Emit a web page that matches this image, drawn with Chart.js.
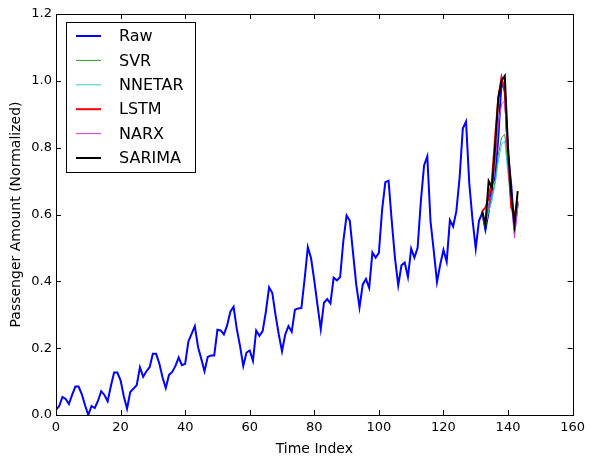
<!DOCTYPE html>
<html>
<head>
<meta charset="utf-8">
<script src="https://cdn.jsdelivr.net/npm/chart.js@4.4.1/dist/chart.umd.min.js"></script>
<style>
  html, body { margin: 0; padding: 0; background: #fff; }
  #wrap { width: 590px; height: 458px; }
</style>
</head>
<body>
<div id="wrap"><canvas id="lineChart" width="590" height="458"></canvas></div>
<script>
// normalized airline passengers, index 0..143
const raw = [
  0.015, 0.027, 0.054, 0.048, 0.033, 0.060, 0.085, 0.085, 0.062, 0.029, 0.000, 0.027,
  0.021, 0.042, 0.071, 0.060, 0.041, 0.087, 0.127, 0.127, 0.104, 0.056, 0.019, 0.069,
  0.079, 0.089, 0.143, 0.114, 0.131, 0.143, 0.183, 0.183, 0.154, 0.112, 0.081, 0.120,
  0.129, 0.147, 0.172, 0.149, 0.153, 0.220, 0.243, 0.266, 0.203, 0.168, 0.131, 0.174,
  0.178, 0.178, 0.255, 0.253, 0.241, 0.268, 0.309, 0.324, 0.257, 0.207, 0.147, 0.187,
  0.193, 0.162, 0.253, 0.237, 0.251, 0.309, 0.382, 0.365, 0.299, 0.241, 0.191, 0.241,
  0.266, 0.249, 0.315, 0.319, 0.320, 0.407, 0.502, 0.469, 0.402, 0.328, 0.257, 0.336,
  0.347, 0.334, 0.411, 0.403, 0.413, 0.521, 0.597, 0.581, 0.485, 0.390, 0.322, 0.390,
  0.407, 0.380, 0.486, 0.471, 0.485, 0.614, 0.697, 0.701, 0.579, 0.469, 0.388, 0.448,
  0.456, 0.413, 0.498, 0.471, 0.500, 0.639, 0.747, 0.774, 0.579, 0.492, 0.398, 0.450,
  0.494, 0.459, 0.583, 0.564, 0.610, 0.710, 0.857, 0.878, 0.693, 0.585, 0.498, 0.581,
  0.604, 0.554, 0.608, 0.689, 0.710, 0.832, 1.000, 0.969, 0.780, 0.689, 0.552, 0.633
];

// forecast window
const forecastIdx = [132, 133, 134, 135, 136, 137, 138, 139, 140, 141, 142, 143];
const svr    = [0.60, 0.56, 0.62, 0.65, 0.70, 0.78, 0.83, 0.84, 0.74, 0.64, 0.57, 0.63];
const nnetar = [0.59, 0.57, 0.61, 0.64, 0.69, 0.76, 0.81, 0.82, 0.72, 0.63, 0.56, 0.62];
const lstm   = [0.61, 0.62, 0.65, 0.70, 0.83, 0.95, 1.01, 0.97, 0.78, 0.62, 0.60, 0.64];
const narx   = [0.59, 0.57, 0.63, 0.66, 0.75, 0.87, 0.93, 0.94, 0.76, 0.64, 0.53, 0.62];
const sarima = [0.61, 0.57, 0.70, 0.68, 0.80, 0.95, 1.00, 1.015, 0.80, 0.66, 0.57, 0.67];

const xTicks = [0, 20, 40, 60, 80, 100, 120, 140, 160];
const yTicks = [0.0, 0.2, 0.4, 0.6, 0.8, 1.0, 1.2];

const FONT = "'DejaVu Sans', sans-serif";

function pts(xs, ys) {
  return ys.map((v, i) => ({ x: xs[i], y: v }));
}
const rawIdx = raw.map((v, i) => i);

// matplotlib style frame + inward ticks + legend in the corner
const framePlugin = {
  id: 'frame',
  afterDraw(chart) {
    const ctx = chart.ctx;
    const a = chart.chartArea;
    const xs = chart.scales.x, ys = chart.scales.y;
    ctx.save();
    ctx.strokeStyle = '#000';
    ctx.lineWidth = 1;
    ctx.strokeRect(Math.round(a.left) + 0.5, Math.round(a.top) + 0.5,
      Math.round(a.right - a.left), Math.round(a.bottom - a.top));
    ctx.beginPath();
    xTicks.forEach(t => {
      const px = Math.round(xs.getPixelForValue(t)) + 0.5;
      ctx.moveTo(px, a.bottom); ctx.lineTo(px, a.bottom - 5);
      ctx.moveTo(px, a.top); ctx.lineTo(px, a.top + 5);
    });
    yTicks.forEach(t => {
      const py = Math.round(ys.getPixelForValue(t)) + 0.5;
      ctx.moveTo(a.left, py); ctx.lineTo(a.left + 5, py);
      ctx.moveTo(a.right, py); ctx.lineTo(a.right - 5, py);
    });
    ctx.stroke();

    const bx = 66, by = 22, bw = 129, bh = 150;
    ctx.fillStyle = '#fff';
    ctx.fillRect(bx, by, bw, bh);
    ctx.strokeStyle = '#000';
    ctx.strokeRect(bx + 0.5, by + 0.5, bw, bh);
    ctx.font = '16px ' + FONT;
    ctx.textBaseline = 'middle';
    chart.data.datasets.forEach((d, i) => {
      const y = 36 + i * 24.4;
      ctx.strokeStyle = d.borderColor;
      ctx.lineWidth = d.borderWidth;
      ctx.beginPath();
      ctx.moveTo(76, y); ctx.lineTo(101, y);
      ctx.stroke();
      ctx.fillStyle = '#000';
      ctx.fillText(d.label, 119, y + 1);
    });
    ctx.restore();
  }
};

// order: later series are painted on top, like matplotlib
function series(label, xs, ys, color, width, order) {
  return {
    label: label,
    data: pts(xs, ys),
    borderColor: color,
    backgroundColor: color,
    borderWidth: width,
    pointRadius: 0,
    tension: 0,
    fill: false,
    order: order
  };
}

const ctx1 = document.getElementById('lineChart').getContext('2d');
const lineChart = new Chart(ctx1, {
  type: 'line',
  data: {
    datasets: [
      series('Raw', rawIdx, raw, '#0000ff', 2, 6),
      series('SVR', forecastIdx, svr, '#2a9a2a', 1, 5),
      series('NNETAR', forecastIdx, nnetar, '#33cccc', 1, 4),
      series('LSTM', forecastIdx, lstm, '#ff0000', 2, 3),
      series('NARX', forecastIdx, narx, '#dd33dd', 1, 2),
      series('SARIMA', forecastIdx, sarima, '#000000', 2, 1)
    ]
  },
  options: {
    responsive: false,
    animation: false,
    layout: { padding: { top: 14, right: 13, left: 0, bottom: 0 } },
    plugins: {
      legend: { display: false },
      tooltip: { enabled: false }
    },
    scales: {
      x: {
        type: 'linear',
        min: 0, max: 160,
        afterBuildTicks: s => { s.ticks = xTicks.map(v => ({ value: v })); },
        afterFit: s => { s.height = 43; },
        grid: { display: false, drawTicks: false },
        border: { display: false },
        ticks: {
          padding: 5,
          color: '#000',
          font: { family: FONT, size: 13 },
          callback: v => String(v),
          maxRotation: 0
        },
        title: {
          display: true,
          text: 'Time Index',
          color: '#000',
          font: { family: FONT, size: 14 },
          padding: { top: 2, bottom: 0 }
        }
      },
      y: {
        type: 'linear',
        min: 0, max: 1.2,
        afterBuildTicks: s => { s.ticks = yTicks.map(v => ({ value: v })); },
        afterFit: s => { s.width = 56; },
        grid: { display: false, drawTicks: false },
        border: { display: false },
        ticks: {
          padding: 4,
          color: '#000',
          font: { family: FONT, size: 13 },
          callback: v => v.toFixed(1)
        },
        title: {
          display: true,
          text: 'Passenger Amount (Normalized)',
          color: '#000',
          font: { family: FONT, size: 14 },
          padding: { top: 8, bottom: 0 }
        }
      }
    }
  },
  plugins: [framePlugin]
});
</script>
</body>
</html>
